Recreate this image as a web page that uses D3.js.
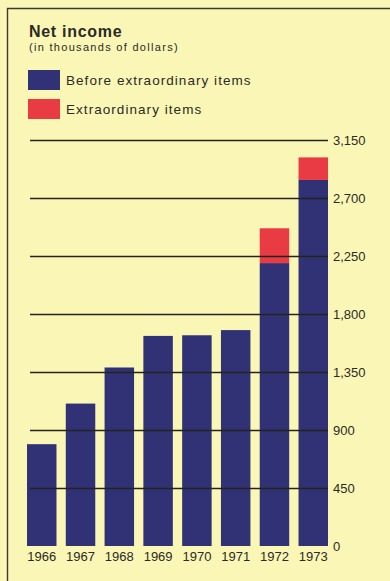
<!DOCTYPE html>
<html>
<head>
<meta charset="utf-8">
<script src="https://cdn.jsdelivr.net/npm/d3@7/dist/d3.min.js"></script>
<style>
  html, body { margin: 0; padding: 0; background: #faf7b6; }
  svg { display: block; }
  text { font-family: "Liberation Sans", Arial, sans-serif; fill: #2b2a26; }
</style>
</head>
<body>
<svg id="chart" width="390" height="581"></svg>
<script>
// Net income by year, in thousands of dollars
const years = ["1966", "1967", "1968", "1969", "1970", "1971", "1972", "1973"];
const beforeExtraordinary = [790, 1105, 1385, 1630, 1635, 1675, 2195, 2840];
const extraordinary = [0, 0, 0, 0, 0, 0, 270, 175];
const tickValues = [0, 450, 900, 1350, 1800, 2250, 2700, 3150];

const seriesNames = ["Before extraordinary items", "Extraordinary items"];
const seriesColors = ["#303275", "#e83b44"];

const width = 390, height = 581;
const svg = d3.select("#chart");

// paper background and frame
svg.append("rect").attr("width", width).attr("height", height).attr("fill", "#faf7b6");
svg.append("path")
  .attr("d", "M7.5,581 V8.5 H390")
  .attr("fill", "none").attr("stroke", "#3a3a32").attr("stroke-width", 1.4);

// title block
svg.append("text").attr("x", 29).attr("y", 37)
  .attr("font-size", 16).attr("font-weight", "bold").attr("letter-spacing", 0.7).text("Net income");
svg.append("text").attr("x", 29).attr("y", 51)
  .attr("font-size", 11).attr("letter-spacing", 1.3).text("(in thousands of dollars)");

// legend
const legend = svg.append("g");
seriesNames.forEach((name, i) => {
  const y0 = 70 + i * 29;
  legend.append("rect").attr("x", 28).attr("y", y0).attr("width", 32).attr("height", 20)
    .attr("fill", seriesColors[i]);
  legend.append("text").attr("x", 66).attr("y", y0 + 15)
    .attr("font-size", 13.5).attr("letter-spacing", 1.05).text(name);
});

// scales
const x = d3.scaleBand().domain(years).range([27, 328]).paddingInner(0.24).paddingOuter(0);
const y = d3.scaleLinear().domain([0, 3150]).range([546, 140]);

// stacked bars
const rows = years.map((yr, i) => ({ year: yr, before: beforeExtraordinary[i], extra: extraordinary[i] }));
const stacked = d3.stack().keys(["before", "extra"])(rows);

svg.append("g").selectAll("g").data(stacked).join("g")
  .attr("fill", (d, i) => seriesColors[i])
  .selectAll("rect").data(d => d.filter(s => s[1] > s[0])).join("rect")
  .attr("x", d => x(d.data.year))
  .attr("width", x.bandwidth())
  .attr("y", d => y(d[1]))
  .attr("height", d => y(d[0]) - y(d[1]));

// horizontal rules over the bars, with labels on the right
const yAxis = d3.axisRight(y).tickValues(tickValues)
  .tickSize(298).tickPadding(5)
  .tickFormat(d => d3.format(",")(d));
const ga = svg.append("g").attr("transform", "translate(30,0)").call(yAxis);
ga.select(".domain").remove();
ga.selectAll(".tick line")
  .attr("stroke", "#24231f").attr("stroke-width", d => d === 0 ? 0 : 1.3);
ga.selectAll(".tick text")
  .attr("font-size", 13).attr("fill", "#2b2a26")
  .style("font-family", '"Liberation Sans", Arial, sans-serif');

// year labels
const xAxis = d3.axisBottom(x).tickSize(0).tickPadding(6);
const gx = svg.append("g").attr("transform", "translate(0,546)").call(xAxis);
gx.select(".domain").remove();
gx.selectAll(".tick text")
  .attr("font-size", 13).attr("fill", "#2b2a26")
  .style("font-family", '"Liberation Sans", Arial, sans-serif');
</script>
</body>
</html>
